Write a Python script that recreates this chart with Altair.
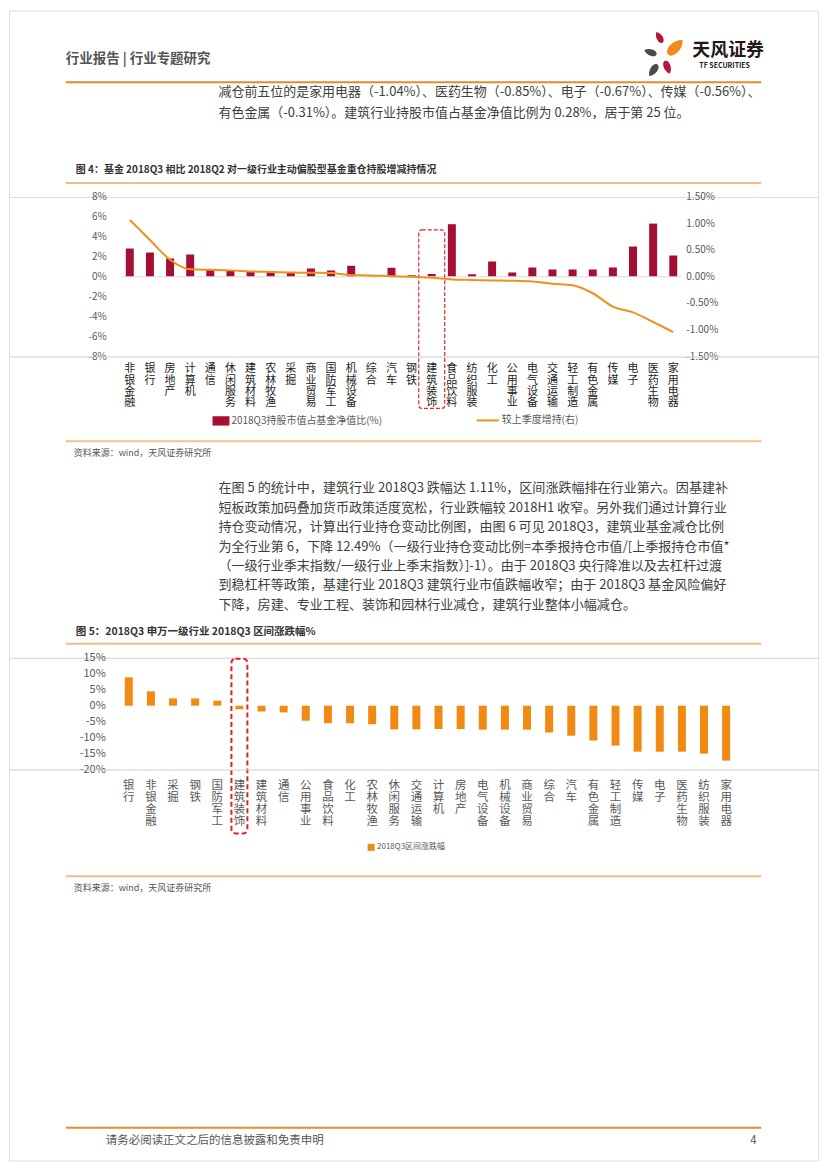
import altair as alt
import pandas as pd

FONT = "Noto Sans CJK SC"
W = 811

# ---------------- data ----------------
c4_cats = ["非银金融", "银行", "房地产", "计算机", "通信", "休闲服务", "建筑材料", "农林牧渔", "采掘",
           "商业贸易", "国防军工", "机械设备", "综合", "汽车", "钢铁", "建筑装饰", "食品饮料", "纺织服装",
           "化工", "公用事业", "电气设备", "交通运输", "轻工制造", "有色金属", "传媒", "电子", "医药生物", "家用电器"]
c4_hold = [2.83, 2.43, 1.83, 2.23, 0.67, 0.67, 0.57, 0.57, 0.43, 0.83, 0.63, 1.10, 0.05, 0.90, 0.15, 0.28,
           5.27, 0.25, 1.53, 0.43, 0.93, 0.73, 0.73, 0.73, 0.93, 3.03, 5.33, 2.13]
c4_chg = [1.07, 0.69, 0.32, 0.14, 0.13, 0.12, 0.10, 0.09, 0.08, 0.075, 0.07, 0.03, 0.025, 0.01, 0.0, -0.02,
          -0.05, -0.06, -0.07, -0.075, -0.09, -0.13, -0.16, -0.31, -0.56, -0.67, -0.85, -1.04]
c4_series_bar = "2018Q3持股市值占基金净值比(%)"
c4_series_line = "较上季度增持(右)"
c4_left_ticks = [8, 6, 4, 2, 0, -2, -4, -6, -8]
c4_left_labels = ["8%", "6%", "4%", "2%", "0%", "-2%", "-4%", "-6%", "-8%"]
c4_right_ticks = [1.5, 1.0, 0.5, 0.0, -0.5, -1.0, -1.5]
c4_right_labels = ["1.50%", "1.00%", "0.50%", "0.00%", "-0.50%", "-1.00%", "-1.50%"]

c5_cats = ["银行", "非银金融", "采掘", "钢铁", "国防军工", "建筑装饰", "建筑材料", "通信", "公用事业",
           "食品饮料", "化工", "农林牧渔", "休闲服务", "交通运输", "计算机", "房地产", "电气设备", "机械设备",
           "商业贸易", "综合", "汽车", "有色金属", "轻工制造", "传媒", "电子", "医药生物", "纺织服装", "家用电器"]
c5_vals = [8.9, 4.5, 2.3, 2.3, 1.6, -1.11, -1.8, -2.1, -4.7, -5.5, -5.5, -5.8, -7.4, -7.4, -7.3, -7.3,
           -7.5, -7.5, -7.5, -8.4, -9.4, -10.9, -12.5, -14.4, -14.4, -14.4, -15.0, -17.2]
c5_series = "2018Q3区间涨跌幅"
c5_ticks = [15, 10, 5, 0, -5, -10, -15, -20]
c5_labels = ["15%", "10%", "5%", "0%", "-5%", "-10%", "-15%", "-20%"]

header_left = "行业报告   |   行业专题研究"
logo_cn = "天风证券"
logo_en = "TF SECURITIES"
para1 = [
    "减仓前五位的是家用电器（-1.04%）、医药生物（-0.85%）、电子（-0.67%）、传媒（-0.56%）、",
    "有色金属（-0.31%）。建筑行业持股市值占基金净值比例为 0.28%，居于第 25 位。",
]
title4 = "图 4：基金 2018Q3 相比 2018Q2 对一级行业主动偏股型基金重仓持股增减持情况"
source = "资料来源：wind，天风证券研究所"
para2 = [
    "在图 5 的统计中，建筑行业 2018Q3 跌幅达 1.11%，区间涨跌幅排在行业第六。因基建补",
    "短板政策加码叠加货币政策适度宽松，行业跌幅较 2018H1 收窄。另外我们通过计算行业",
    "持仓变动情况，计算出行业持仓变动比例图，由图 6 可见 2018Q3，建筑业基金减仓比例",
    "为全行业第 6，下降 12.49%（一级行业持仓变动比例=本季报持仓市值/[上季报持仓市值*",
    "（一级行业季末指数/一级行业上季末指数）]-1）。由于 2018Q3 央行降准以及去杠杆过渡",
    "到稳杠杆等政策，基建行业 2018Q3 建筑行业市值跌幅收窄；由于 2018Q3 基金风险偏好",
    "下降，房建、专业工程、装饰和园林行业减仓，建筑行业整体小幅减仓。",
]
title5 = "图 5：2018Q3 申万一级行业 2018Q3 区间涨跌幅%"
footer = "请务必阅读正文之后的信息披露和免责申明"
page_no = "4"

ORANGE_LINE = "#E8892C"
LIGHT_LINE = "#F3BE8C"


# ---------------- helpers ----------------
def txt(s, x, y, size=13.0, color="#404040", weight="normal", align="left"):
    return alt.Chart(pd.DataFrame({"t": [s]})).mark_text(
        align=align, baseline="middle", fontSize=size, color=color, fontWeight=weight, font=FONT
    ).encode(x=alt.value(x), y=alt.value(y), text="t:N")


def hline(x1, x2, y, color, width):
    return alt.Chart(pd.DataFrame({"a": [0]})).mark_rule(color=color, strokeWidth=width).encode(
        x=alt.value(x1), x2=alt.value(x2), y=alt.value(y))


PETAL = "M0,-1C0.75,-0.35,0.6,1,0,1C-0.6,1,-0.75,-0.35,0,-1Z"


def petal(x, y, size, angle, color):
    return alt.Chart(pd.DataFrame({"a": [0]})).mark_point(
        shape=PETAL, filled=True, opacity=1, color=color, size=size, angle=angle, strokeWidth=0
    ).encode(x=alt.value(x), y=alt.value(y))


# ---------------- block A (page y 8..195) ----------------
blockA_layers = [
    txt(header_left, 57, 49, size=13.5, color="#555555", weight="bold"),
    petal(652, 27, 150, 330, "#B5163A"),
    petal(668, 37, 420, 45, "#F08A1D"),
    petal(643, 42, 170, 290, "#4A4A4A"),
    petal(660, 57, 190, 160, "#B5163A"),
    petal(646, 60, 200, 215, "#4A4A4A"),
    txt(logo_cn, 685, 41, size=18, color="#231815", weight="bold"),
    txt(logo_en, 692, 56, size=7, color="#231815", weight="bold"),
    hline(57, 754, 72, ORANGE_LINE, 2),
    txt(title4, 67, 160, size=10, color="#333333", weight="bold"),
    hline(57, 754, 173, LIGHT_LINE, 2),
]
for i, line in enumerate(para1):
    blockA_layers.append(txt(line, 210, 82 + i * 21, size=13.0))
blockA = alt.layer(*blockA_layers).properties(width=W, height=187)

# ---------------- chart 4 (page y 195..355) ----------------
df4 = pd.DataFrame({"cat": c4_cats, "hold": c4_hold, "chg": c4_chg,
                    "s1": [c4_series_bar] * len(c4_cats), "s2": [c4_series_line] * len(c4_cats)})
x4 = alt.X("cat:N", sort=c4_cats, title=None,
           scale=alt.Scale(range=[111, 676], paddingInner=0, paddingOuter=0),
           axis=alt.Axis(domain=False, ticks=False, grid=False, labelAngle=0, labelAlign="center",
                         labelBaseline="top", labelPadding=6, labelFontSize=11, labelLineHeight=11.5,
                         labelColor="#222222", labelFont=FONT, labelOverlap=False,
                         labelExpr="split(datum.label, '')"))
yl = alt.Scale(domain=[-8, 8])
yr = alt.Scale(domain=[-1.5, 1.5])

bars4 = alt.Chart(df4).mark_bar(size=8).encode(
    x=x4,
    y=alt.Y("hold:Q", scale=yl, axis=None),
    color=alt.Color("s1:N", scale=alt.Scale(range=["#A50F33"]),
                    legend=alt.Legend(orient="none", legendX=204, legendY=216, title=None,
                                      symbolType="M-1,-0.55H1V0.55H-1Z", symbolSize=289,
                                      symbolStrokeWidth=0, labelFontSize=10, labelColor="#595959",
                                      labelFont=FONT, labelOffset=2)),
)
zero4 = alt.Chart(pd.DataFrame({"a": [0]})).mark_rule(color="#D9D9D9", strokeWidth=1).encode(
    y=alt.Y("a:Q", scale=yl, axis=None), x=alt.value(113), x2=alt.value(674))
box4 = alt.Chart(pd.DataFrame({"cat": ["建筑装饰"], "top": [4.7], "bot": [-13.2]})).mark_bar(
    size=26, fill="white", fillOpacity=0, stroke="#D42B2B", strokeWidth=1.2, strokeDash=[4, 2],
    cornerRadius=3).encode(x=x4, y=alt.Y("top:Q", scale=yl, axis=None), y2="bot:Q")
lt4 = alt.Chart(pd.DataFrame({"v": c4_left_ticks, "lab": c4_left_labels})).mark_text(
    align="right", baseline="middle", fontSize=10, color="#595959", font=FONT).encode(
    x=alt.value(98), y=alt.Y("v:Q", scale=yl, axis=None), text="lab:N")
left4 = alt.layer(bars4, zero4, box4, lt4)

line4 = alt.Chart(df4).mark_line(strokeWidth=2, interpolate="monotone").encode(
    x=x4,
    y=alt.Y("chg:Q", scale=yr, axis=None),
    stroke=alt.Stroke("s2:N", scale=alt.Scale(range=["#F0901E"]),
                      legend=alt.Legend(orient="none", legendX=468, legendY=212, title=None,
                                        symbolType="stroke", symbolSize=484, symbolStrokeWidth=2,
                                        labelFontSize=10, labelColor="#595959", labelFont=FONT,
                                        labelOffset=2)),
)
rt4 = alt.Chart(pd.DataFrame({"v": c4_right_ticks, "lab": c4_right_labels})).mark_text(
    align="left", baseline="middle", fontSize=10, color="#595959", font=FONT).encode(
    x=alt.value(679), y=alt.Y("v:Q", scale=yr, axis=None), text="lab:N")
right4 = alt.layer(line4, rt4)

chart4 = alt.layer(left4, right4).resolve_scale(y="independent").properties(width=W, height=160)

# ---------------- block B (page y 355..657) ----------------
blockB_layers = [
    hline(57, 754, 85, LIGHT_LINE, 2),
    txt(source, 65, 97, size=9, color="#555555"),
    txt(title5, 67, 276, size=10.5, color="#333333", weight="bold"),
    hline(57, 754, 288, LIGHT_LINE, 2),
]
for i, line in enumerate(para2):
    blockB_layers.append(txt(line, 210, 132 + i * 19.5, size=13.1))
blockB = alt.layer(*blockB_layers).properties(width=W, height=302)

# ---------------- chart 5 (page y 657..769) ----------------
df5 = pd.DataFrame({"cat": c5_cats, "v": c5_vals, "s": [c5_series] * len(c5_cats)})
ys5 = alt.Scale(domain=[-20, 15])
x5 = alt.X("cat:N", sort=c5_cats, title=None,
           scale=alt.Scale(range=[109, 730], paddingInner=0, paddingOuter=0),
           axis=alt.Axis(domain=False, ticks=False, grid=False, labelAngle=0, labelAlign="center",
                         labelBaseline="top", labelPadding=10, labelFontSize=11.5, labelLineHeight=12,
                         labelColor="#595959", labelFont=FONT, labelOverlap=False,
                         labelExpr="split(datum.label, '')"))
bars5 = alt.Chart(df5).mark_bar(size=8).encode(
    x=x5,
    y=alt.Y("v:Q", scale=ys5, axis=None),
    color=alt.Color("s:N", scale=alt.Scale(range=["#F08A12"]),
                    legend=alt.Legend(orient="none", legendX=359, legendY=186, title=None,
                                      symbolType="square", symbolSize=49, symbolStrokeWidth=0,
                                      labelFontSize=8, labelColor="#595959", labelFont=FONT,
                                      labelOffset=2)),
)
box5 = alt.Chart(pd.DataFrame({"cat": ["建筑装饰"], "top": [14.7], "bot": [-40.0]})).mark_bar(
    size=16, fill="white", fillOpacity=0, stroke="#E0201F", strokeWidth=2, strokeDash=[5, 3],
    cornerRadius=4).encode(x=x5, y=alt.Y("top:Q", scale=ys5, axis=None), y2="bot:Q")
t5 = alt.Chart(pd.DataFrame({"v": c5_ticks, "lab": c5_labels})).mark_text(
    align="right", baseline="middle", fontSize=11, color="#595959", font=FONT).encode(
    x=alt.value(97), y=alt.Y("v:Q", scale=ys5, axis=None), text="lab:N")
chart5 = alt.layer(bars5, box5, t5).properties(width=W, height=112)

# ---------------- block C (page y 769..1161) ----------------
blockC = alt.layer(
    hline(57, 754, 107, LIGHT_LINE, 2),
    txt(source, 65, 119, size=9, color="#555555"),
    hline(57, 754, 359, ORANGE_LINE, 2),
    txt(footer, 97, 372, size=11.5, color="#555555"),
    txt(page_no, 743, 372, size=11.5, color="#555555"),
).properties(width=W, height=392)

chart = alt.vconcat(blockA, chart4, blockB, chart5, blockC, spacing=0, bounds="flush").resolve_scale(
    color="independent", stroke="independent", x="independent", y="independent"
).properties(
    padding=0, background="white"
).configure_view(stroke=None).configure(font=FONT)

chart.save("out.html", embed_options={"renderer": "svg", "actions": False})
